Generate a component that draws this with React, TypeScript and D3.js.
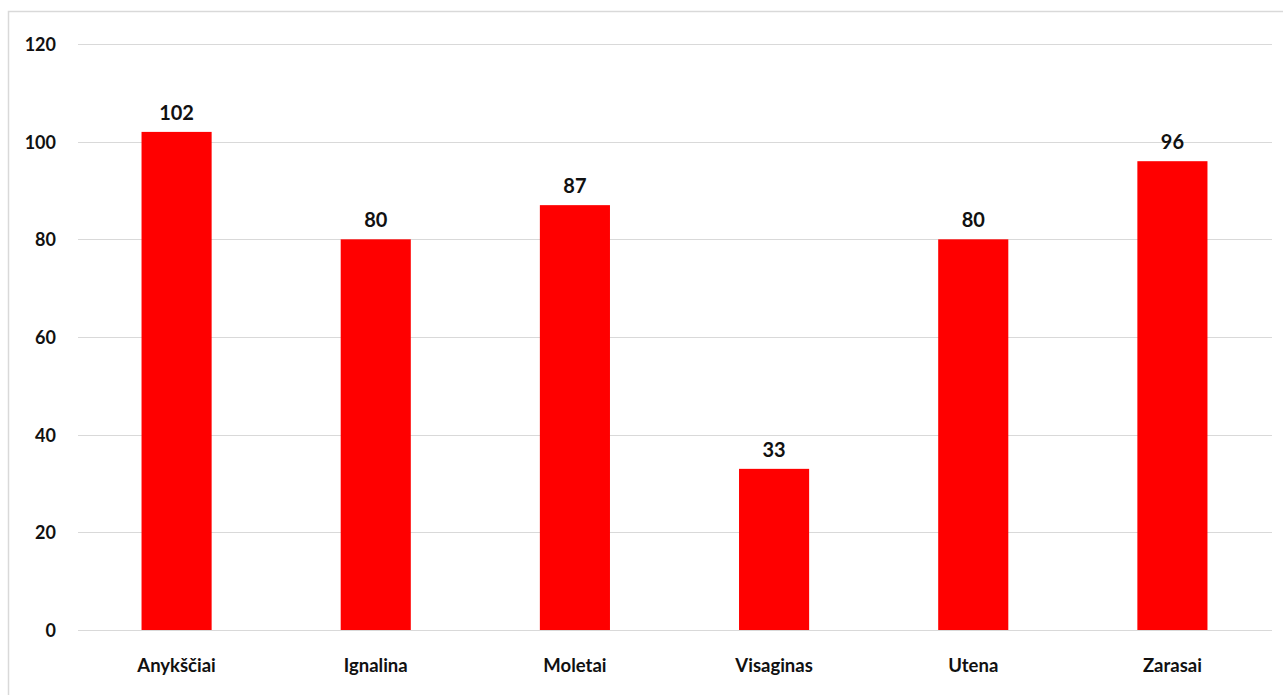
import React from "react";
import * as d3 from "d3";

const categories = ["Anykščiai", "Ignalina", "Moletai", "Visaginas", "Utena", "Zarasai"];
const values = [102, 80, 87, 33, 80, 96];
const yTicks = [0, 20, 40, 60, 80, 100, 120];

const W = 1283;
const H = 695;
const FONT = "Lato, 'Open Sans', sans-serif";

export default function App() {
  const x = d3
    .scaleBand<string>()
    .domain(categories)
    .range([77, 1272])
    .paddingInner(0.648)
    .paddingOuter(0.324);
  const y = d3.scaleLinear().domain([0, 120]).range([630, 44]);

  return (
    <svg
      width={W}
      height={H}
      style={{ position: "absolute", left: 0, top: 0, background: "#fff" }}
    >
      <rect x={8.5} y={11.5} width={1400} height={800} fill="none" stroke="#d9d9d9" strokeWidth={1.5} />
      {yTicks.map((t) => (
        <g key={t}>
          <line x1={78} x2={1272} y1={Math.round(y(t)) + 0.5} y2={Math.round(y(t)) + 0.5} stroke="#d9d9d9" strokeWidth={1} />
          <text
            x={56}
            y={y(t)}
            textAnchor="end"
            dominantBaseline="central"
            fontFamily={FONT}
            fontWeight={700}
            fontSize={18}
            fill="#111"
          >
            {t}
          </text>
        </g>
      ))}
      {categories.map((c, i) => (
        <g key={c}>
          <rect x={x(c)} y={y(values[i])} width={x.bandwidth()} height={y(0) - y(values[i])} fill="#ff0000" />
          <text
            x={(x(c) as number) + x.bandwidth() / 2}
            y={y(values[i]) - 12}
            textAnchor="middle"
            fontFamily={FONT}
            fontWeight={700}
            fontSize={20}
            fill="#111"
          >
            {values[i]}
          </text>
          <text
            x={(x(c) as number) + x.bandwidth() / 2}
            y={672}
            textAnchor="middle"
            fontFamily={FONT}
            fontWeight={700}
            fontSize={18.5}
            fill="#111"
          >
            {c}
          </text>
        </g>
      ))}
    </svg>
  );
}
